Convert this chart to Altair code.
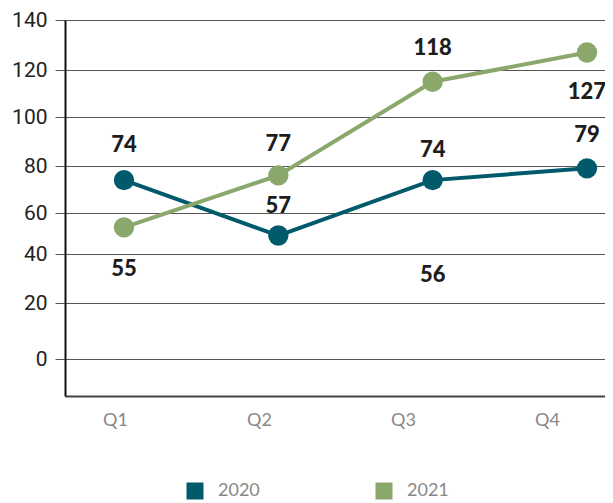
import altair as alt
import pandas as pd

quarters = ["Q1", "Q2", "Q3", "Q4"]
years = ["2020", "2021"]
vals_2020 = [74, 49, 74, 79]
vals_2021 = [53, 76, 115, 127]

label_quarters = ["Q1", "Q1", "Q2", "Q2", "Q3", "Q3", "Q3", "Q4", "Q4"]
label_texts = ["74", "55", "77", "57", "118", "74", "56", "79", "127"]
label_y = [88.6, 33.9, 89, 63, 128.8, 86.5, 31.4, 92.7, 110.6]

y_ticks = [0, 20, 40, 60, 80, 100, 120, 140]

df = pd.DataFrame({
    "quarter": quarters * 2,
    "year": [years[0]] * 4 + [years[1]] * 4,
    "value": vals_2020 + vals_2021,
})
ldf = pd.DataFrame({"quarter": label_quarters, "text": label_texts, "ly": label_y})
qdf = pd.DataFrame({"quarter": quarters})

colors = ["#015A6B", "#8AA86B"]

ys = alt.Scale(domain=[-13, 0, 20, 40, 60, 80, 100, 120, 140],
               range=[376, 339, 283, 234, 193, 146, 97, 50, 0],
               nice=False, zero=False)
xs_pts = alt.Scale(type="point", padding=0.2495, align=0.766)
xs_lab = alt.Scale(type="point", padding=0.375, align=0.463)
cs = alt.Scale(domain=years, range=colors)

yaxis = alt.Axis(values=y_ticks, grid=True, gridColor="#555", gridWidth=1,
                 tickSize=10, tickColor="#555", tickWidth=1,
                 domainColor="#111", domainWidth=2,
                 labelFont="Roboto", labelFontSize=21, labelColor="#222",
                 labelPadding=8, title=None)

leg = alt.Legend(title=None, orient="none", legendX=121, legendY=462,
                 direction="horizontal", symbolType="square", symbolSize=289,
                 symbolStrokeWidth=0, labelFont="Lato", labelFontSize=18,
                 labelColor="#888", labelOffset=14, columnPadding=115, padding=0)

line = alt.Chart(df).mark_line(strokeWidth=4).encode(
    x=alt.X("quarter:N", scale=xs_pts, axis=None),
    y=alt.Y("value:Q", scale=ys, axis=yaxis),
    color=alt.Color("year:N", scale=cs, legend=leg),
)
points = alt.Chart(df).mark_circle(size=415, opacity=1).encode(
    x=alt.X("quarter:N", scale=xs_pts, axis=None),
    y=alt.Y("value:Q", scale=ys, axis=yaxis),
    color=alt.Color("year:N", scale=cs, legend=leg),
)
labels = alt.Chart(ldf).mark_text(font="Lato", fontWeight=900, fontSize=22,
                                  color="#1d1d1d", baseline="middle").encode(
    x=alt.X("quarter:N", scale=xs_pts, axis=None),
    y=alt.Y("ly:Q", scale=ys, axis=yaxis),
    text="text:N",
)
inner = alt.layer(line, points, labels)

xaxis_layer = alt.Chart(qdf).mark_point(opacity=0).encode(
    x=alt.X("quarter:N", scale=xs_lab,
            axis=alt.Axis(orient="bottom", domain=True, domainColor="#444",
                          domainWidth=2, ticks=False, grid=False,
                          labelColor="#888", labelFontSize=18, labelFont="Lato",
                          labelPadding=15, labelAngle=0, title=None)),
    y=alt.value(0),
)

chart = alt.layer(inner, xaxis_layer).resolve_scale(x="independent").properties(
    width=540, height=376,
    autosize=alt.AutoSizeParams(type="none"),
    padding={"left": 57, "top": 12, "right": 0, "bottom": 107},
).configure_view(stroke=None)

chart.save("out.html", embed_options={"renderer": "svg", "actions": False})
